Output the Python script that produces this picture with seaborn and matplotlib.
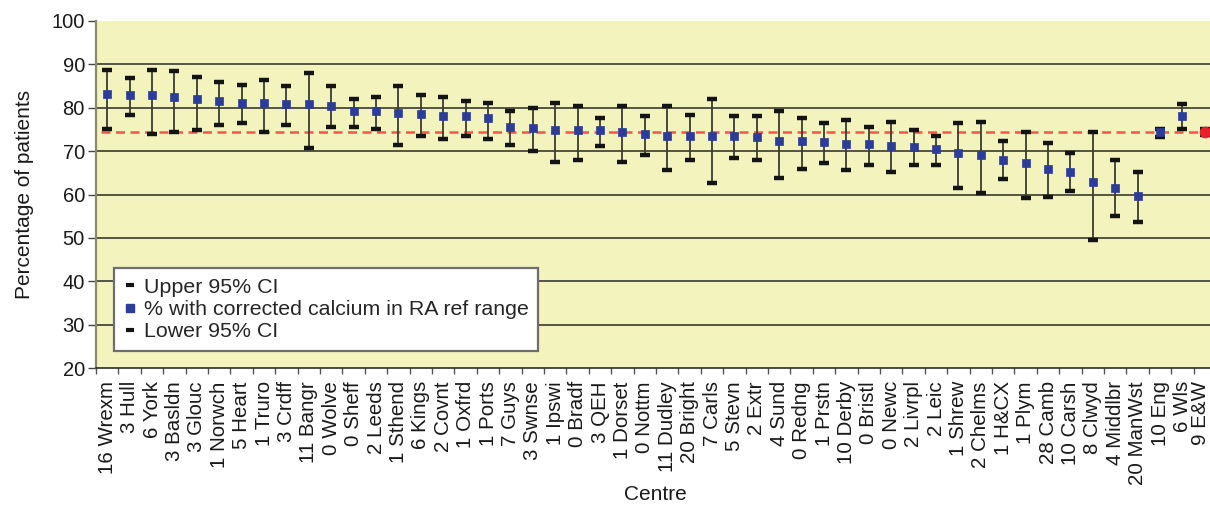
import numpy as np
import pandas as pd
import matplotlib
matplotlib.use("Agg")
import matplotlib.pyplot as plt
import matplotlib.transforms as mtransforms
from matplotlib.lines import Line2D
from matplotlib.ticker import FixedLocator, MultipleLocator
import seaborn as sns

# Centre labels (number prefix as printed on the axis)
centres = [
    "16 Wrexm", "3 Hull", "6 York", "3 Basldn", "3 Glouc", "1 Norwch", "5 Heart",
    "1 Truro", "3 Crdff", "11 Bangr", "0 Wolve", "0 Sheff", "2 Leeds", "1 Sthend",
    "6 Kings", "2 Covnt", "1 Oxfrd", "1 Ports", "7 Guys", "3 Swnse", "1 Ipswi",
    "0 Bradf", "3 QEH", "1 Dorset", "0 Nottm", "11 Dudley", "20 Bright", "7 Carls",
    "5 Stevn", "2 Extr", "4 Sund", "0 Redng", "1 Prstn", "10 Derby", "0 Bristl",
    "0 Newc", "2 Livrpl", "2 Leic", "1 Shrew", "2 Chelms", "1 H&CX", "1 Plym",
    "28 Camb", "10 Carsh", "8 Clwyd", "4 Middlbr", "20 ManWst", "10 Eng", "6 Wls",
    "9 E&W",
]

# % with corrected calcium in RA reference range
pct = [
    83.2, 82.9, 82.9, 82.5, 82.0, 81.6, 81.2, 81.2, 80.9, 80.9,
    80.5, 79.2, 79.2, 78.9, 78.5, 78.1, 78.1, 77.6, 75.6, 75.3,
    74.8, 74.8, 74.8, 74.4, 74.0, 73.6, 73.6, 73.6, 73.6, 73.2,
    72.4, 72.4, 72.0, 71.6, 71.6, 71.2, 70.9, 70.4, 69.6, 69.2,
    68.0, 67.2, 65.9, 65.2, 62.8, 61.6, 59.6, 74.4, 78.0, 74.5,
]

# Upper 95% confidence limit
upper = [
    88.8, 86.9, 88.8, 88.5, 87.2, 86.0, 85.2, 86.5, 84.9, 88.0,
    84.9, 82.1, 82.4, 84.9, 82.9, 82.4, 81.6, 81.2, 79.2, 80.0,
    81.2, 80.5, 77.6, 80.5, 78.0, 80.5, 78.4, 82.0, 78.0, 78.0,
    79.3, 77.6, 76.4, 77.2, 75.6, 76.8, 74.8, 73.6, 76.4, 76.8,
    72.4, 74.4, 71.9, 69.6, 74.4, 67.9, 65.2, 75.0, 80.8, 75.1,
]

# Lower 95% confidence limit
lower = [
    75.2, 78.4, 74.0, 74.5, 74.8, 76.0, 76.4, 74.5, 76.0, 70.8,
    75.6, 75.6, 75.2, 71.3, 73.6, 72.8, 73.6, 72.8, 71.3, 70.0,
    67.6, 67.9, 71.2, 67.6, 69.2, 65.6, 67.9, 62.7, 68.4, 67.9,
    63.9, 65.9, 67.2, 65.6, 66.8, 65.2, 66.8, 66.8, 61.6, 60.4,
    63.6, 59.1, 59.5, 60.7, 49.6, 55.1, 53.6, 73.2, 75.2, 73.8,
]

# National (England & Wales) reference level
national = 74.4

df = pd.DataFrame({"centre": centres, "pct": pct, "upper": upper, "lower": lower})
df["pos"] = np.arange(len(df))
is_total = df["centre"] == "9 E&W"

FONT = "Liberation Sans"
sns.set_theme(style="white")
plt.rcParams["font.family"] = [FONT, "DejaVu Sans"]

BG = "#F2F3BD"
BLUE = "#2B3C99"
CAP = "#141414"
RED = "#E8202A"

fig = plt.figure(figsize=(12.10, 5.07), dpi=100)
ax = fig.add_axes([96 / 1210, 1 - 368 / 507, 1120 / 1210, 347 / 507])
ax.set_facecolor(BG)

# horizontal grid
for yv in range(30, 100, 10):
    ax.axhline(yv, color="#2a2a24", lw=1.1, zorder=1)

# national reference line
ax.hlines(national, df["pos"].min() - 0.27, df["pos"].max() + 0.5,
          colors="#F0584A", linestyles=(0, (3.6, 2.2)), lw=1.8, zorder=2)

# confidence interval whiskers
ax.vlines(df["pos"], df["lower"], df["upper"], colors="#3b3b33", lw=1.3, zorder=3)

# confidence limit caps
for col in ["upper", "lower"]:
    sns.scatterplot(data=df, x="pos", y=col, marker="_", s=49, color=CAP,
                    linewidth=3.2, ax=ax, zorder=4, legend=False)

# centre percentages
sns.scatterplot(data=df[~is_total], x="pos", y="pct", marker="s", s=36,
                color=BLUE, edgecolor=BLUE, linewidth=0.5, ax=ax, zorder=5,
                legend=False)
sns.scatterplot(data=df[is_total], x="pos", y="pct", marker="o", s=62,
                color=RED, edgecolor=RED, linewidth=0.5, ax=ax, zorder=6,
                legend=False)

ax.set_xlim(-0.5, len(df) - 0.5)
ax.set_ylim(20, 100)

# axis ticks
ax.yaxis.set_major_locator(MultipleLocator(10))
ax.tick_params(axis="y", which="major", left=True, length=6, width=1,
               color="#444444", pad=2, labelsize=14.5, labelcolor="#1a1a1a")
ax.set_xticks(df["pos"])
ax.set_xticklabels(df["centre"], rotation=90, ha="center", va="top")
ax.tick_params(axis="x", which="major", bottom=False, length=0, pad=9.5,
               labelsize=14.8, labelcolor="#1a1a1a")
ax.xaxis.set_minor_locator(FixedLocator(np.arange(len(df) + 1) - 0.5))
ax.tick_params(axis="x", which="minor", bottom=True, length=4, width=1,
               color="#555555")

# keep the last centre label inside the figure edge
last_label = ax.get_xticklabels()[-1]
last_label.set_transform(last_label.get_transform() +
                         mtransforms.ScaledTranslation(-4 / 100, 0, fig.dpi_scale_trans))

for side in ["top", "right"]:
    ax.spines[side].set_visible(False)
ax.spines["left"].set_color("#8a8a70")
ax.spines["left"].set_linewidth(1.6)
ax.spines["bottom"].set_color("#1a1a1a")
ax.spines["bottom"].set_linewidth(1.1)

ax.set_xlabel("")
ax.set_ylabel("")
fig.text(25 / 1210, 1 - 194 / 507, "Percentage of patients", rotation=90,
         ha="center", va="center", fontsize=15, color="#1a1a1a")
fig.text(655 / 1210, 1 - 495 / 507, "Centre", ha="center", va="center",
         fontsize=15, color="#1a1a1a")

handles = [
    Line2D([], [], ls="none", marker="_", color=CAP, markersize=6, mew=3.0),
    Line2D([], [], ls="none", marker="s", color=BLUE, markersize=5.5),
    Line2D([], [], ls="none", marker="_", color=CAP, markersize=6, mew=3.0),
]
labels = ["Upper 95% CI", "% with corrected calcium in RA ref range", "Lower 95% CI"]
leg = ax.legend(handles, labels, loc="lower left",
                bbox_to_anchor=(18 / 1120, 17 / 347), borderaxespad=0,
                fontsize=15.4, frameon=True, fancybox=False, framealpha=1,
                edgecolor="#6e6e6e", facecolor="white", handlelength=0.6,
                handletextpad=0.35, labelspacing=0.15, borderpad=0.45)
leg.get_frame().set_linewidth(1.6)
leg.set_zorder(10)

fig.savefig("out.png", dpi=100, facecolor="white")
